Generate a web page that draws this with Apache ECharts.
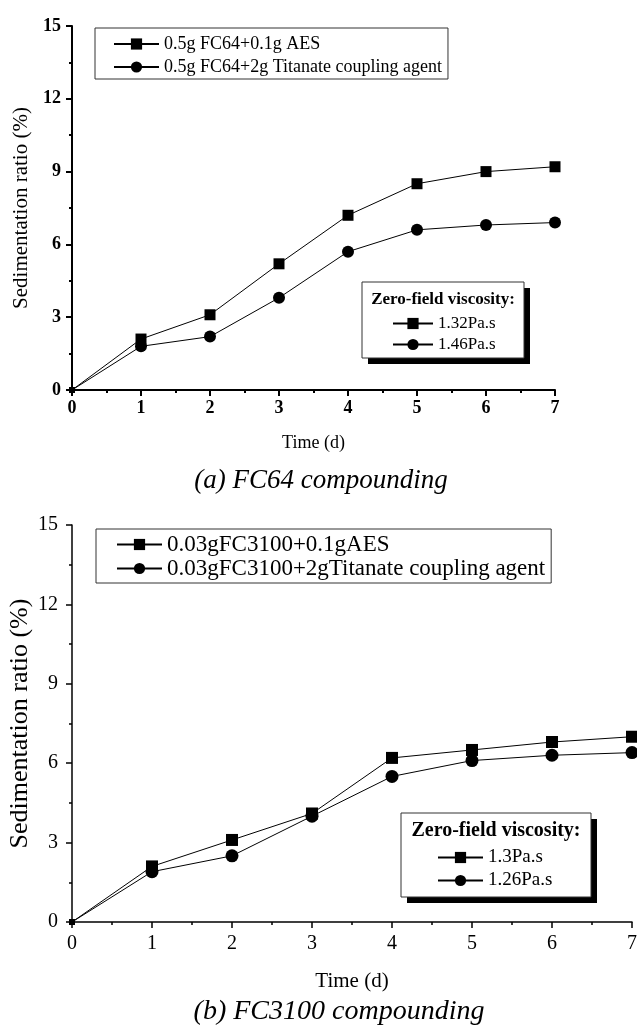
<!DOCTYPE html>
<html>
<head>
<meta charset="utf-8">
<script src="https://cdn.jsdelivr.net/npm/echarts@6/dist/echarts.min.js"></script>
<style>
  html, body { margin: 0; padding: 0; background: #fff; }
  #chart { width: 637px; height: 1028px; }
</style>
</head>
<body>
<div id="chart"></div>
<script>
// time axis (days)
const days = [0, 1, 2, 3, 4, 5, 6, 7]

// (a) FC64 compounding
const fc64Aes = [0, 2.1, 3.1, 5.2, 7.2, 8.5, 9.0, 9.2]
const fc64Titanate = [0, 1.8, 2.2, 3.8, 5.7, 6.6, 6.8, 6.9]
const fc64Names = ['0.5g FC64+0.1g AES', '0.5g FC64+2g Titanate coupling agent']
const fc64Viscosity = ['1.32Pa.s', '1.46Pa.s']

// (b) FC3100 compounding
const fc3100Aes = [0, 2.1, 3.1, 4.1, 6.2, 6.5, 6.8, 7.0]
const fc3100Titanate = [0, 1.9, 2.5, 4.0, 5.5, 6.1, 6.3, 6.4]
const fc3100Names = ['0.03gFC3100+0.1gAES', '0.03gFC3100+2gTitanate coupling agent']
const fc3100Viscosity = ['1.3Pa.s', '1.26Pa.s']

const yMin = 0, yMax = 15, yStep = 3
const xMin = 0, xMax = 7, xStep = 1

const serif = '"Liberation Serif", "DejaVu Serif", serif'

const chart = echarts.init(document.getElementById('chart'), null, { renderer: 'canvas' })

// 把数值数组变成 [x, y] 点，原点用小方块
const toPoints = (vals) => vals.map((v, i) => {
  if (i === 0) return { value: [days[i], v], symbol: 'rect', symbolSize: 6 }
  return [days[i], v]
})

const makeSeries = (name, vals, symbol, size, idx) => ({
  name,
  type: 'line',
  xAxisIndex: idx,
  yAxisIndex: idx,
  data: toPoints(vals),
  symbol,
  symbolSize: size,
  clip: false,
  lineStyle: { color: '#000', width: 1 },
  itemStyle: { color: '#000' },
  emphasis: { disabled: true },
  z: 3
})

const xAxisCfg = (idx, bold, fs, margin, nameGap, nameFs, lw) => ({
  type: 'value',
  gridIndex: idx,
  min: xMin,
  max: xMax,
  interval: xStep,
  name: 'Time (d)',
  nameLocation: 'middle',
  nameGap,
  nameMoveOverlap: false,
  nameTextStyle: { fontFamily: serif, fontSize: nameFs, color: '#000' },
  axisLine: { show: true, onZero: false, lineStyle: { color: '#000', width: lw } },
  axisTick: { show: true, inside: false, length: 6, lineStyle: { color: '#000', width: lw } },
  minorTick: { show: true, splitNumber: 2, length: 3, lineStyle: { color: '#000', width: lw } },
  splitLine: { show: false },
  axisLabel: {
    margin,
    fontFamily: serif,
    fontSize: fs,
    fontWeight: bold ? 'bold' : 'normal',
    color: '#000'
  }
})

const yAxisCfg = (idx, bold, fs, margin, nameGap, nameFs, lw) => ({
  type: 'value',
  gridIndex: idx,
  min: yMin,
  max: yMax,
  interval: yStep,
  name: 'Sedimentation ratio (%)',
  nameLocation: 'middle',
  nameGap,
  nameRotate: 90,
  nameMoveOverlap: false,
  nameTextStyle: { fontFamily: serif, fontSize: nameFs, color: '#000' },
  axisLine: { show: true, onZero: false, lineStyle: { color: '#000', width: lw } },
  axisTick: { show: true, inside: false, length: 6, lineStyle: { color: '#000', width: lw } },
  minorTick: { show: true, splitNumber: 2, length: 3, lineStyle: { color: '#000', width: lw } },
  splitLine: { show: false },
  axisLabel: {
    margin,
    fontFamily: serif,
    fontSize: fs,
    fontWeight: bold ? 'bold' : 'normal',
    color: '#000'
  }
})

const legendCfg = (names, left, top, opts) => ({
  data: names,
  orient: 'vertical',
  left,
  top,
  selectedMode: false,
  itemWidth: opts.itemWidth,
  itemHeight: 14,
  itemGap: opts.itemGap,
  padding: opts.padding || 0,
  borderColor: opts.border ? '#333' : 'transparent',
  borderWidth: opts.border ? 1 : 0,
  backgroundColor: opts.border ? '#fff' : 'transparent',
  formatter: opts.formatter,
  textStyle: { fontFamily: serif, fontSize: opts.fontSize, color: '#000' },
  z: 10
})

// 右下角带阴影的粘度图例框
const insetBox = (x, y, w, h, title, fs) => ({
  type: 'group',
  z: 8,
  children: [
    { type: 'rect', shape: { x: x + 6, y: y + 6, width: w, height: h }, style: { fill: '#000' } },
    { type: 'rect', shape: { x, y, width: w, height: h }, style: { fill: '#fff', stroke: '#333', lineWidth: 1 } },
    {
      type: 'text',
      style: {
        x: x + w / 2, y: y + 18, text: title,
        font: 'bold ' + fs + 'px ' + serif,
        fill: '#000', align: 'center', verticalAlign: 'middle'
      }
    }
  ]
})

const option = {
  backgroundColor: '#fff',
  animation: false,
  grid: [
    { left: 72, top: 26, width: 483, height: 364, outerBoundsMode: 'none', containLabel: false },
    { left: 72, top: 525, width: 560, height: 397, outerBoundsMode: 'none', containLabel: false }
  ],
  xAxis: [
    xAxisCfg(0, true, 18, 9, 44, 18, 2),
    xAxisCfg(1, false, 20, 12, 49, 21, 1.5)
  ],
  yAxis: [
    yAxisCfg(0, true, 18, 11, 40, 21, 2),
    yAxisCfg(1, false, 20, 14, 39, 26, 1.5)
  ],
  legend: [
    legendCfg(fc64Names, 95, 28, { itemWidth: 45, itemGap: 5, fontSize: 18, padding: [7, 6, 3, 18], border: true }),
    legendCfg(fc64Names, 392, 315, {
      itemWidth: 40, itemGap: 4, fontSize: 17,
      formatter: (n) => fc64Viscosity[fc64Names.indexOf(n)]
    }),
    legendCfg(fc3100Names, 96, 529, { itemWidth: 45, itemGap: 1, fontSize: 23, padding: [4, 6, 3, 20], border: true }),
    legendCfg(fc3100Names, 437, 848, {
      itemWidth: 45, itemGap: 4, fontSize: 19,
      formatter: (n) => fc3100Viscosity[fc3100Names.indexOf(n)]
    })
  ],
  title: [
    {
      text: '(a) FC64 compounding',
      left: 316, top: 462, textAlign: 'center',
      textStyle: { fontFamily: serif, fontSize: 27, fontStyle: 'italic', fontWeight: 'normal', color: '#000' }
    },
    {
      text: '(b) FC3100 compounding',
      left: 334, top: 993, textAlign: 'center',
      textStyle: { fontFamily: serif, fontSize: 28, fontStyle: 'italic', fontWeight: 'normal', color: '#000' }
    }
  ],
  graphic: [
    insetBox(362, 282, 162, 76, 'Zero-field viscosity:', 17),
    insetBox(401, 813, 190, 84, 'Zero-field viscosity:', 20)
  ],
  series: [
    makeSeries(fc64Names[0], fc64Aes, 'rect', 11, 0),
    makeSeries(fc64Names[1], fc64Titanate, 'circle', 12, 0),
    makeSeries(fc3100Names[0], fc3100Aes, 'rect', 12, 1),
    makeSeries(fc3100Names[1], fc3100Titanate, 'circle', 13, 1)
  ]
}

chart.setOption(option)
</script>
</body>
</html>
